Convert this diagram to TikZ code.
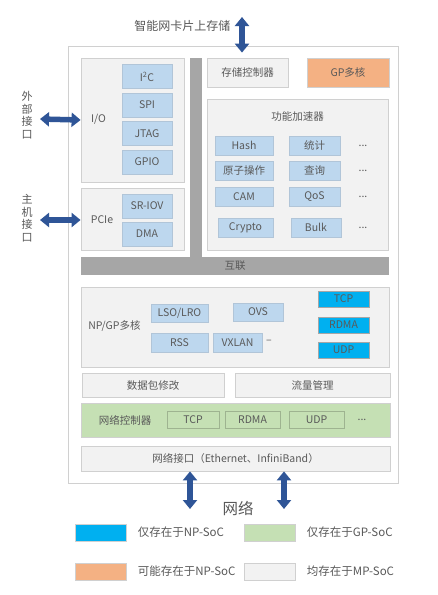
\documentclass[tikz,border=0pt]{standalone}
\usepackage{fontspec}
\setmainfont{Noto Sans CJK SC}
\usetikzlibrary{arrows.meta,positioning}

\definecolor{txtgray}{HTML}{595959}
\definecolor{panelfill}{HTML}{F2F2F2}
\definecolor{panelline}{HTML}{D0D0D0}
\definecolor{lightblue}{HTML}{BDD7EE}
\definecolor{npblue}{HTML}{00B0F0}
\definecolor{gpgreen}{HTML}{C5E0B4}
\definecolor{orangefill}{HTML}{F4B183}
\definecolor{barfill}{HTML}{A6A6A6}
\definecolor{arrowblue}{HTML}{2F5597}

\tikzstyle{outer} = [rectangle, draw=panelline, line width=1pt, fill=white, inner sep=0pt]
\tikzstyle{panel} = [rectangle, draw=panelline, line width=0.8pt, fill=panelfill, inner sep=0pt]
\tikzstyle{block} = [rectangle, fill=lightblue, draw=lightblue!80!gray, inner sep=0pt,
minimum width=50pt, minimum height=24pt]
\tikzstyle{npblock} = [rectangle, fill=npblue, draw=gray!70, line width=0.8pt, inner sep=0pt,
minimum width=51pt, minimum height=16pt]
\tikzstyle{gpblock} = [rectangle, fill=gpgreen, draw=gpgreen!80!black, inner sep=0pt,
minimum width=54pt, minimum height=17pt]
\tikzstyle{bar} = [rectangle, fill=barfill, inner sep=0pt]
\tikzstyle{legendbox} = [rectangle, draw=panelline, line width=0.8pt, inner sep=0pt,
minimum width=51pt, minimum height=17pt]
\tikzstyle{legendtext} = [anchor=west, font=\fontsize{11.5pt}{14pt}\selectfont]
\tikzstyle{arrow} = [line width=5.5pt, draw=arrowblue,
{Triangle[length=9pt,width=14pt]}-{Triangle[length=9pt,width=14pt]}]

\begin{document}
\begin{tikzpicture}[x=1pt, y=-1pt, node distance=28.5pt,
  every node/.style={text=txtgray, font=\fontsize{10.5pt}{13pt}\selectfont}]
			\path[fill=white] (0,0) rectangle (437,595);
			\useasboundingbox (0,0) rectangle (437,595);

			% chip frame
			\node (chip) [outer, minimum width=330pt, minimum height=437pt] at (233,264.5) {};

			% left column: I/O and PCIe
			\node (ioBox) [panel, minimum width=103pt, minimum height=124pt] at (132.5,120) {};
			\node (ioLabel) at (98.5,119) {I/O};
			\node (iic) [block] at (147,76.5) {I\textsuperscript{2}C};
			\node (spi) [block, below of=iic] {SPI};
			\node (jtag) [block, below of=spi] {JTAG};
			\node (gpio) [block, below of=jtag] {GPIO};

			\node (pcieBox) [panel, minimum width=103pt, minimum height=62pt] at (132.5,219) {};
			\node (pcieLabel) at (102,220) {PCIe};
			\node (sriov) [block] at (147,206) {SR-IOV};
			\node (dma) [block, below of=sriov, yshift=0.5pt] {DMA};

			\node (vbar) [bar, minimum width=12pt, minimum height=199pt] at (196,157.5) {};

			% right column: storage, GP cores, accelerators
			\node (storageCtrl) [panel, minimum width=81pt, minimum height=29pt] at (247.5,72.5) {存储控制器};
			\node (gpCores) [rectangle, fill=orangefill, draw=panelline, inner sep=0pt,
			minimum width=82pt, minimum height=29pt] at (348,72.5) {GP多核};

			\node (accelBox) [panel, minimum width=181pt, minimum height=151pt] at (297.5,174.5) {};
			\node (accelTitle) at (297.5,117) {功能加速器};
			\node (hash) [block, minimum width=58pt, minimum height=19pt] at (244,145.5) {Hash};
			\node (stats) [block, minimum width=51pt, minimum height=19pt] at (314.5,145.5) {统计};
			\node (atomic) [block, minimum width=58pt, minimum height=19pt, below of=hash, node distance=25pt] {原子操作};
			\node (lookup) [block, minimum width=51pt, minimum height=19pt, below of=stats, node distance=25pt] {查询};
			\node (cam) [block, minimum width=58pt, minimum height=19pt, below of=atomic, node distance=26pt] {CAM};
			\node (qos) [block, minimum width=51pt, minimum height=19pt, below of=lookup, node distance=26pt] {QoS};
			\node (crypto) [block, minimum width=55pt, minimum height=19pt, below of=cam, node distance=31pt, xshift=1.5pt] {Crypto};
			\node (bulk) [block, minimum width=50pt, minimum height=19pt, below of=qos, node distance=31pt, xshift=1.5pt] {Bulk};
			\node (moreA) at (363,145.5) {...};
			\node (moreB) at (363,170.5) {...};
			\node (moreC) at (363,196.5) {...};
			\node (moreD) at (363,227.5) {...};

			% interconnect
			\node (interconnect) [bar, minimum width=308pt, minimum height=18pt] at (235,266) {互联};

			% NP/GP cores
			\node (npgpBox) [panel, minimum width=308pt, minimum height=80pt] at (235,327) {};
			\node (npgpLabel) at (114.5,326) {NP/GP多核};
			\node (lso) [block, minimum width=57pt, minimum height=18pt] at (179.5,313) {LSO/LRO};
			\node (ovs) [block, minimum width=50pt, minimum height=18pt] at (258,312) {OVS};
			\node (rss) [block, minimum width=57pt, minimum height=19pt] at (179.5,342.5) {RSS};
			\node (vxlan) [block, minimum width=49pt, minimum height=19pt] at (237.5,342.5) {VXLAN};
			\node (moreNp) at (269,342) {–};
			\node (npTcp) [npblock] at (343.5,299) {TCP};
			\node (npRdma) [npblock] at (343.5,325) {RDMA};
			\node (npUdp) [npblock] at (343.5,350) {UDP};

			% packet modification and traffic management
			\node (pktMod) [panel, minimum width=142pt, minimum height=24pt] at (153,385) {数据包修改};
			\node (traffic) [panel, minimum width=155pt, minimum height=24pt] at (312.5,385) {流量管理};

			% network controller
			\node (netCtrl) [rectangle, fill=gpgreen, draw=panelline, inner sep=0pt,
			minimum width=309pt, minimum height=34pt] at (235.5,420) {};
			\node (netCtrlLabel) at (125,420) {网络控制器};
			\node (gpTcp) [gpblock, minimum width=52pt] at (193,419.5) {TCP};
			\node (gpRdma) [gpblock, minimum width=55pt] at (252.5,419.5) {RDMA};
			\node (gpUdp) [gpblock, minimum width=55pt] at (316.5,419.5) {UDP};
			\node (moreGp) at (362,420) {...};

			% network interface
			\node (netIf) [panel, minimum width=309pt, minimum height=25pt] at (235.5,458.5) {网络接口（Ethernet、InfiniBand）};

			% outside labels
			\node (storeLabel) [anchor=east, font=\fontsize{12pt}{14pt}\selectfont] at (234,26) {智能网卡片上存储};
			\node (extLabel) [align=center, font=\fontsize{11pt}{12.5pt}\selectfont] at (27,115) {外\\部\\接\\口};
			\node (hostLabel) [align=center, font=\fontsize{11pt}{12.5pt}\selectfont] at (27,218) {主\\机\\接\\口};
			\node (netLabel) [font=\fontsize{15.5pt}{18pt}\selectfont] at (238,508) {网络};

			\coordinate (storeTop) at (242,17);
			\coordinate (extEnd) at (40,119);
			\coordinate (hostEnd) at (40,220);
			\coordinate (netA) at (190,509);
			\coordinate (netB) at (284,509);

			\draw [arrow] (storeTop) -- (storeTop |- storageCtrl.north) [shorten >=5pt];
			\draw [arrow] (extEnd) -- (ioBox.west);
			\draw [arrow] (hostEnd) -- (hostEnd -| pcieBox.west);
			\draw [arrow] (netIf.south -| netA) -- (netA);
			\draw [arrow] (netIf.south -| netB) -- (netB);

			% legend
			\node (legNp) [legendbox, fill=npblue] at (100.5,532.5) {};
			\node (legNpText) [legendtext, right=8pt of legNp] {仅存在于NP-SoC};
			\node (legGp) [legendbox, fill=gpgreen] at (269.5,532.5) {};
			\node (legGpText) [legendtext, right=8pt of legGp] {仅存在于GP-SoC};
			\node (legMaybe) [legendbox, fill=orangefill] at (100.5,571.5) {};
			\node (legMaybeText) [legendtext, right=8pt of legMaybe] {可能存在于NP-SoC};
			\node (legAll) [legendbox, fill=panelfill] at (269.5,571.5) {};
			\node (legAllText) [legendtext, right=8pt of legAll] {均存在于MP-SoC};

		\end{tikzpicture}
\end{document}
